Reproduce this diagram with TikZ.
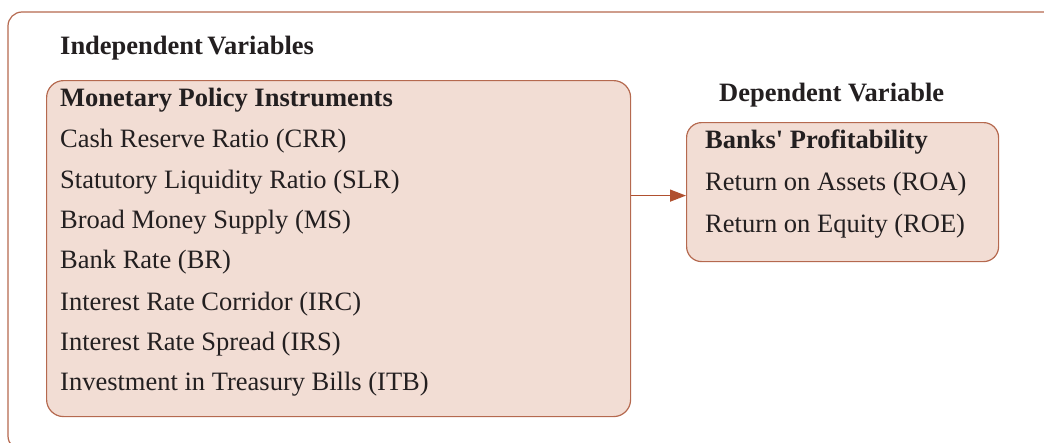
\documentclass[tikz,border=0pt]{standalone}
\usepackage{fontspec}
\setmainfont{Liberation Serif}
\newfontfamily\rawserif{Liberation Serif}
\usetikzlibrary{arrows.meta}
\definecolor{boxfill}{HTML}{F2DDD4}
\definecolor{boxline}{HTML}{B5694F}
\definecolor{arrcol}{HTML}{B0502F}
\definecolor{txt}{HTML}{231F20}
\tikzset{
  panel/.style={draw=boxline, line width=1.2pt, fill=boxfill, rounded corners=17pt, inner sep=0pt, anchor=north west},
  lbl/.style={anchor=base west, inner sep=0pt, text=txt, font=\fontsize{26.5}{30}\selectfont},
  hdr/.style={lbl, font=\fontsize{26.5}{30}\selectfont\bfseries},
  frame/.style={draw=boxline, line width=1.2pt, rounded corners=14pt},
  arr/.style={draw=arrcol, line width=1.4pt, -{Triangle[length=16pt,width=12pt]}}
}
\begin{document}
\begin{tikzpicture}[x=1pt,y=-1pt]
\useasboundingbox (0,0) rectangle (1044,442);
\begin{scope}
\clip (0,0) rectangle (1044,442);
\draw[frame] (1060,12) -- (8,12) -- (8,450) -- (1060,450);
\end{scope}
\node[hdr] (iv) at (60,54) {Independent\,Variables};
\node[panel, minimum width=584pt, minimum height=336pt] (mpi) at (46,80) {};
\node[hdr] (t0) at (60,106) {Monetary Policy Instruments};
\node[lbl] (t1) at (60,147) {Cash Reserve Ratio (CRR)};
\node[lbl] (t2) at (60,188) {Statutory Liquidity Ratio (SLR)};
\node[lbl] (t3) at (60,228) {Broad Money Supply (MS)};
\node[lbl] (t4) at (60,268) {Bank Rate (BR)};
\node[lbl] (t5) at (60,310) {Interest Rate Corridor (IRC)};
\node[lbl] (t6) at (60,350) {Interest Rate Spread (IRS)};
\node[lbl] (t7) at (60,390) {Investment in Treasury Bills (ITB)};
\node[hdr] (dvh) at (719,101) {Dependent Variable};
\node[panel, minimum width=312pt, minimum height=139pt, rounded corners=15pt] (dv) at (686,122) {};
\node[hdr] (d0) at (705,148) {Banks{\rawserif\bfseries '} Profitability};
\node[lbl] (d1) at (705,190) {Return on Assets (ROA)};
\node[lbl] (d2) at (705,232) {Return on Equity (ROE)};
\coordinate (aend) at ([yshift=-3.5pt]dv.west);
\draw[arr] (mpi.east |- aend) -- (aend);
\end{tikzpicture}
\end{document}
